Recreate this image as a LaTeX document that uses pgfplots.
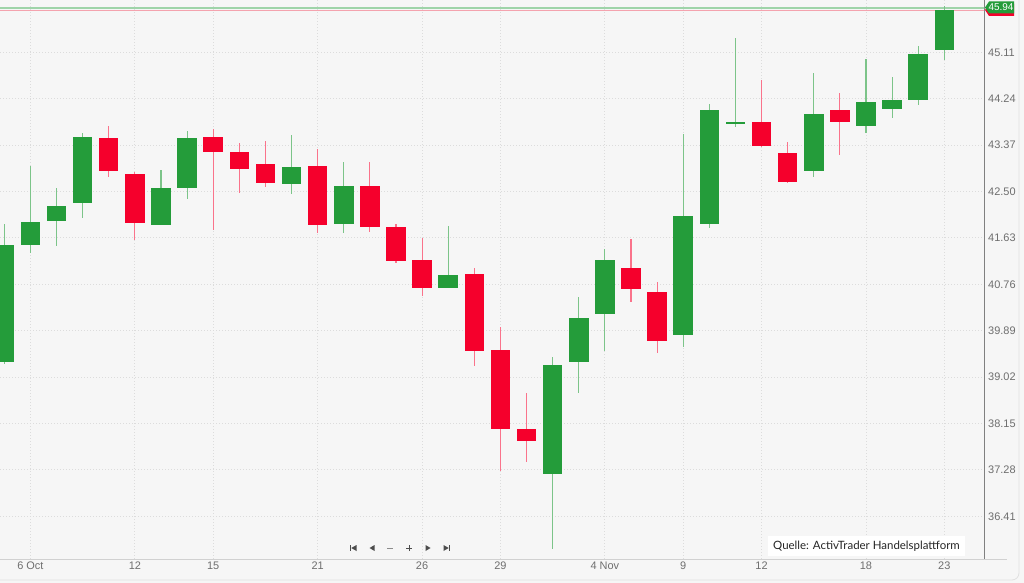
\documentclass[border=0pt]{standalone}
\usepackage{pgfplots}
\pgfplotsset{compat=1.18}
\usepackage{pgfplotstable}
\usetikzlibrary{calc}
\usepackage{fontspec}
\setmainfont{Liberation Sans}
\newfontfamily\lato{Lato}
\definecolor{cgreen}{HTML}{249C3A}
\definecolor{cred}{HTML}{F5002C}
\definecolor{bg}{HTML}{F6F6F6}
\definecolor{gridc}{HTML}{DCDCDC}
\definecolor{lbl}{HTML}{6E6E6E}
\definecolor{gline}{HTML}{9FD4A9}
\definecolor{rline}{HTML}{F4A3AE}
\pgfdeclarelayer{bglayer}
\pgfsetlayers{bglayer,main}

% rising candles: index, open, high, low, close
\pgfplotstableread{
i  o     h     l     c
0  39.31 41.89 39.27 41.49
1  41.50 42.97 41.34 41.92
2  41.95 42.56 41.48 42.21
3  42.30 43.60 42.01 43.52
6  41.88 42.90 41.87 42.55
7  42.58 43.64 42.36 43.49
11 42.66 43.56 42.45 42.95
13 41.90 43.05 41.72 42.59
17 40.71 41.85 40.70 40.93
21 37.22 39.40 35.80 39.23
22 39.32 40.53 38.72 40.11
23 40.22 41.42 39.50 41.20
26 39.81 43.57 39.58 42.04
27 41.90 44.14 41.82 44.02
28 43.78 45.38 43.71 43.80
31 42.90 44.72 42.78 43.94
33 43.74 44.99 43.60 44.16
34 44.05 44.65 43.87 44.20
35 44.22 45.23 44.13 45.07
36 45.17 45.98 44.96 45.89
}\upcandles

% falling candles: index, open, high, low, close
\pgfplotstableread{
i  o     h     l     c
4  43.50 43.73 42.78 42.89
5  42.82 42.86 41.59 41.91
8  43.51 43.67 41.78 43.25
9  43.24 43.41 42.47 42.94
10 43.00 43.44 42.59 42.67
12 42.97 43.29 41.72 41.89
14 42.59 43.05 41.75 41.85
15 41.82 41.89 41.16 41.20
16 41.20 41.63 40.54 40.71
18 40.94 41.07 39.23 39.52
19 39.51 39.96 37.26 38.05
20 38.04 38.72 37.43 37.83
24 41.05 41.61 40.42 40.69
25 40.60 40.81 39.47 39.70
29 43.79 44.59 43.34 43.37
30 43.22 43.43 42.66 42.68
32 44.02 44.34 43.19 43.82
}\downcandles

\begin{document}
\begin{tikzpicture}
\begin{axis}[
  name=ax, at={(0,0)}, anchor=south west,
  scale only axis, width=984bp, height=559bp,
  xmin=-0.1647, xmax=37.52, ymin=35.609, ymax=46.091,
  axis x line*=bottom, axis y line*=right,
  x axis line style={draw=black!18, line width=0.8bp},
  y axis line style={draw=black!50, line width=0.9bp},
  xtick={1,5,8,12,16,19,23,26,29,33,36},
  xticklabels={6 Oct,12,15,21,26,29,4 Nov,9,12,18,23},
  ytick={36.41,37.28,38.15,39.02,39.89,40.76,41.63,42.50,43.37,44.24,45.11},
  yticklabels={36.41,37.28,38.15,39.02,39.89,40.76,41.63,42.50,43.37,44.24,45.11},
  xtick style={draw=none}, ytick style={draw=none},
  grid=major,
  major grid style={draw=gridc, dash pattern=on 1.2bp off 1.8bp, line width=0.8bp},
  ticklabel style={font=\fontsize{11}{11}\selectfont, text=lbl},
  xticklabel style={anchor=north, inner sep=0pt, yshift=-3bp},
  yticklabel style={anchor=west, inner sep=0pt, xshift=4bp},
  error bars/error mark=none,
]
% current price lines
\addplot[draw=rline, line width=1.3bp, mark=none, forget plot] coordinates {(-1,45.895) (38,45.895)};
\addplot[draw=gline, line width=1.1bp, mark=none, forget plot] coordinates {(-1,45.94) (38,45.94)};
% wicks
\addplot[draw=none, mark=none, error bars/.cd, y dir=both, y explicit,
  error bar style={draw=cgreen!60!white, line width=1.1bp}]
  table[x=i, y expr={(\thisrow{h}+\thisrow{l})/2}, y error expr={(\thisrow{h}-\thisrow{l})/2}] {\upcandles};
\addplot[draw=none, mark=none, error bars/.cd, y dir=both, y explicit,
  error bar style={draw=cred!55!white, line width=1.1bp}]
  table[x=i, y expr={(\thisrow{h}+\thisrow{l})/2}, y error expr={(\thisrow{h}-\thisrow{l})/2}] {\downcandles};
% bodies
\addplot[draw=none, mark=none, error bars/.cd, y dir=both, y explicit,
  error bar style={draw=cgreen, line width=19.5bp, line cap=butt}]
  table[x=i, y expr={(\thisrow{o}+\thisrow{c})/2}, y error expr={abs(\thisrow{c}-\thisrow{o})/2+0.01}] {\upcandles};
\addplot[draw=none, mark=none, error bars/.cd, y dir=both, y explicit,
  error bar style={draw=cred, line width=19.5bp, line cap=butt}]
  table[x=i, y expr={(\thisrow{o}+\thisrow{c})/2}, y error expr={abs(\thisrow{c}-\thisrow{o})/2+0.01}] {\downcandles};
\end{axis}
\begin{scope}[shift={($(ax.south west)+(0,-24bp)$)}, x=1bp, y=1bp]
\begin{pgfonlayer}{bglayer}
\fill[bg] (0,0) rectangle (1024,583);
\end{pgfonlayer}
% extension of bottom axis line
\draw[black!18, line width=0.8bp] (984,24) -- (1007,24);
% frame bottom
\draw[black!12, line width=0.8bp] (-5,3) -- (1012,3) arc[start angle=-90, end angle=0, radius=7] -- (1019,590);
% source box
\fill[white] (768,27) rectangle (965,47);
\node[inner sep=0pt, text=black!85] at (866.5,37) {\lato\fontsize{11.5}{12}\selectfont Quelle: ActivTrader Handelsplattform};
% navigation icons
\begin{scope}[black!70]
\fill (350,32) rectangle (351.3,38);
\fill (356.5,38) -- (356.5,32) -- (351.3,35) -- cycle;
\fill (374.5,38) -- (374.5,32) -- (369.5,35) -- cycle;
\draw[line width=1bp, black!45] (387,35) -- (393,35);
\draw[line width=1bp] (406,35) -- (412,35) (409,32) -- (409,38);
\fill (425.5,38) -- (425.5,32) -- (430.5,35) -- cycle;
\fill (443.5,38) -- (443.5,32) -- (448.7,35) -- cycle;
\fill (448.7,32) rectangle (450,38);
\end{scope}
% price tag
\fill[cred] (985,573) -- (989,579) -- (1014,579) -- (1014,567) -- (989,567) -- cycle;
\fill[cgreen] (985,575.5) -- (989,581.5) -- (1014,581.5) -- (1014,569.5) -- (989,569.5) -- cycle;
\node[inner sep=0pt, text=white] at (1001,575.5) {\fontsize{10}{10}\selectfont 45.94};
\end{scope}
\pgfresetboundingbox
\path[use as bounding box] ($(ax.south west)+(0,-24bp)$) rectangle ++(1024bp,583bp);
\end{tikzpicture}
\end{document}
